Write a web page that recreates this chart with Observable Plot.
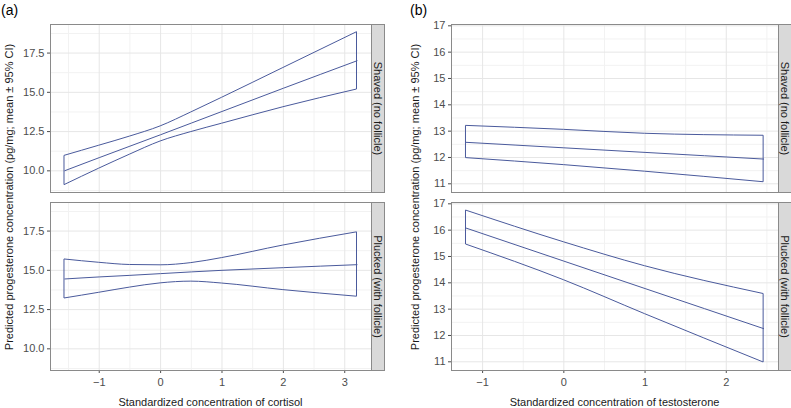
<!DOCTYPE html>
<html><head><meta charset="utf-8">
<script src="https://cdn.jsdelivr.net/npm/d3@7"></script>
<script src="https://cdn.jsdelivr.net/npm/@observablehq/plot@0.6"></script>
<style>
body{margin:0;background:#fff;}
#wrap{position:relative;width:791px;height:408px;font-family:"Liberation Sans",Arial,sans-serif;}
#wrap > svg{position:absolute;top:0;}
</style></head><body><div id="wrap"></div>
<script>
// Facet rows
const facetGroups = ["Shaved (no follicle)", "Plucked (with follicle)"];

// Panel (a): cortisol
const cortisolX = [-1.56, -1, -0.5, 0, 0.5, 1, 2, 3.2];
const cortShavedLower = [9.10, 10.14, 11.03, 11.87, 12.47, 13.00, 14.05, 15.18];
const cortShavedMean  = [10.01, 10.84, 11.57, 12.30, 13.04, 13.78, 15.26, 17.01];
const cortShavedUpper = [10.96, 11.60, 12.18, 12.83, 13.72, 14.65, 16.55, 18.83];
const cortPluckedLower = [13.21, 13.57, 13.90, 14.17, 14.28, 14.16, 13.74, 13.32];
const cortPluckedMean  = [14.45, 14.58, 14.68, 14.79, 14.90, 15.00, 15.17, 15.36];
const cortPluckedUpper = [15.69, 15.48, 15.34, 15.32, 15.46, 15.78, 16.58, 17.42];

// Panel (b): testosterone
const testoX = [-1.2, 0, 1, 2.46];
const testoShavedLower = [11.975, 11.71, 11.46, 11.06];
const testoShavedMean  = [12.575, 12.367, 12.193, 11.94];
const testoShavedUpper = [13.2, 13.05, 12.9, 12.825];
const testoPluckedLower = [15.45, 14.1, 12.81, 10.975];
const testoPluckedMean  = [16.075, 14.824, 13.782, 12.26];
const testoPluckedUpper = [16.74, 15.54, 14.63, 13.575];

// Axis ticks
const cortXTicks = [-1, 0, 1, 2, 3];
const cortXMinor = [-1.5, -0.5, 0.5, 1.5, 2.5];
const cortYTicks = [10, 12.5, 15, 17.5];
const cortYMinor = [8.75, 11.25, 13.75, 16.25, 18.75];
const testoXTicks = [-1, 0, 1, 2];
const testoXMinor = [-0.5, 0.5, 1.5, 2.5];
const testoYTicks = [11, 12, 13, 14, 15, 16, 17];
const testoYMinor = [11.5, 12.5, 13.5, 14.5, 15.5, 16.5];

// Texts
const yTitle = "Predicted progesterone concentration (pg/mg; mean ± 95% CI)";
const cortXTitle = "Standardized concentration of cortisol";
const testoXTitle = "Standardized concentration of testosterone";

const LINE = "#4a5a9c";
const FONT = "'Liberation Sans', Arial, sans-serif";
const fmtInt = d => d < 0 ? "\u2212" + (-d) : String(d);

function rows(xs, group, lo, mid, hi) {
  return xs.map((x, i) => ({x, group, lower: lo[i], mean: mid[i], upper: hi[i]}));
}
const cortData = [
  ...rows(cortisolX, facetGroups[0], cortShavedLower, cortShavedMean, cortShavedUpper),
  ...rows(cortisolX, facetGroups[1], cortPluckedLower, cortPluckedMean, cortPluckedUpper)
];
const testoData = [
  ...rows(testoX, facetGroups[0], testoShavedLower, testoShavedMean, testoShavedUpper),
  ...rows(testoX, facetGroups[1], testoPluckedLower, testoPluckedMean, testoPluckedUpper)
];

function panel(o) {
  const innerW = o.width - o.marginLeft - o.marginRight;
  return Plot.plot({
    width: o.width, height: 408,
    marginLeft: o.marginLeft, marginRight: o.marginRight, marginTop: 23, marginBottom: 37,
    style: {fontFamily: FONT, fontSize: "11px", color: "#4d4d4d", background: "transparent", overflow: "visible"},
    x: {domain: o.xDomain, ticks: o.xTicks, tickFormat: fmtInt, tickSize: 3, tickPadding: 5, label: null},
    y: {domain: o.yDomain, ticks: o.yTicks, tickFormat: o.yFormat, tickSize: 3, tickPadding: 3, label: null},
    fy: {domain: facetGroups, axis: null, paddingInner: 0.0542, paddingOuter: 0},
    marks: [
      Plot.ruleX(o.xMinor, {stroke: "#f2f2f2"}),
      Plot.ruleY(o.yMinor, {stroke: "#f2f2f2"}),
      Plot.ruleX(o.xTicks, {stroke: "#e6e6e6"}),
      Plot.ruleY(o.yTicks, {stroke: "#e6e6e6"}),
      Plot.areaY(o.data, {x: "x", y1: "lower", y2: "upper", fy: "group", fill: "none", stroke: LINE, strokeWidth: 1, curve: "monotone-x"}),
      Plot.lineY(o.data, {x: "x", y: "mean", fy: "group", stroke: LINE, strokeWidth: 1, curve: "monotone-x"}),
      Plot.frame({stroke: "#8a8a8a"}),
      Plot.frame({fill: "#d9d9d9", stroke: "#8a8a8a", insetLeft: innerW, insetRight: -13}),
      Plot.text(facetGroups, {fy: d => d, text: d => d, frameAnchor: "right", textAnchor: "middle", dx: 6.5, rotate: 90, fill: "#1a1a1a", fontSize: 11})
    ]
  });
}

const wrap = document.getElementById("wrap");
const pa = panel({data: cortData, width: 390, marginLeft: 50, marginRight: 19,
  xDomain: [-1.794, 3.436], xTicks: cortXTicks, xMinor: cortXMinor,
  yDomain: [8.62, 19.32], yTicks: cortYTicks, yMinor: cortYMinor, yFormat: ".1f"});
pa.style.left = "0px";
wrap.appendChild(pa);
const pb = panel({data: testoData, width: 401, marginLeft: 61, marginRight: 13,
  xDomain: [-1.383, 2.643], xTicks: testoXTicks, xMinor: testoXMinor,
  yDomain: [10.67, 17.05], yTicks: testoYTicks, yMinor: testoYMinor, yFormat: "d"});
pb.style.left = "390px";
wrap.appendChild(pb);

// Overlay titles
const ov = d3.select(wrap).append("svg")
  .attr("width", 791).attr("height", 408)
  .style("left", "0px").style("pointer-events", "none")
  .style("font-family", FONT);
ov.append("text").attr("x", 1).attr("y", 15).attr("font-size", 14).attr("fill", "#000").text("(a)");
ov.append("text").attr("x", 410).attr("y", 15).attr("font-size", 14).attr("fill", "#000").text("(b)");
ov.append("text").attr("transform", "translate(12.5,197) rotate(-90)").attr("text-anchor", "middle")
  .attr("font-size", 11).attr("fill", "#1a1a1a").text(yTitle);
ov.append("text").attr("transform", "translate(419,197) rotate(-90)").attr("text-anchor", "middle")
  .attr("font-size", 11).attr("fill", "#1a1a1a").text(yTitle);
ov.append("text").attr("x", 210.5).attr("y", 405.5).attr("text-anchor", "middle")
  .attr("font-size", 11).attr("fill", "#1a1a1a").text(cortXTitle);
ov.append("text").attr("x", 614.5).attr("y", 405.5).attr("text-anchor", "middle")
  .attr("font-size", 11).attr("fill", "#1a1a1a").text(testoXTitle);
</script></body></html>
